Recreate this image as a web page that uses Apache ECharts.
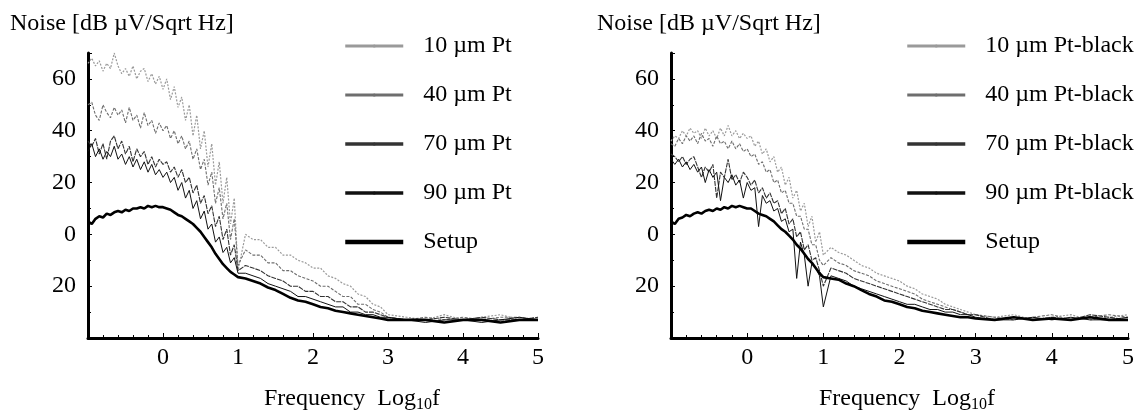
<!DOCTYPE html>
<html>
<head>
<meta charset="utf-8">
<script src="https://cdn.jsdelivr.net/npm/echarts@6/dist/echarts.min.js"></script>
<style>html,body{margin:0;padding:0;background:#fff}#c{width:1143px;height:417px}</style>
</head>
<body>
<div id="c"></div>
<script>
// Frequency grid (Log10 f)
const logF = [-1.00,-0.95,-0.90,-0.85,-0.80,-0.75,-0.70,-0.65,-0.60,-0.55,-0.50,-0.45,-0.40,-0.35,-0.30,-0.25,-0.20,-0.15,-0.10,-0.05,
  0.00,0.05,0.10,0.15,0.20,0.25,0.30,0.35,0.40,0.45,0.50,0.55,0.60,0.65,0.70,0.75,0.80,0.85,0.90,0.95,1.00,
  1.1,1.2,1.3,1.4,1.5,1.6,1.7,1.8,1.9,2.0,2.1,2.2,2.3,2.4,2.5,2.6,2.7,2.8,2.9,3.0,
  3.25,3.5,3.75,4.0,4.25,4.5,4.75,5.0];

// Left panel: Pt electrodes
const pt10 = [66,68,65,67,63,66,64,70,65,62,64,61,65,60,63,64,59,62,58,61,
  56,60,52,57,49,53,44,50,38,46,33,40,26,35,19,28,12,22,4,14,-14,
  0,-2,-2,-5,-5,-8,-8,-10,-11,-13,-13,-16,-17,-19,-20,-23,-24,-27,-28,-31,
  -32,-33,-31,-33,-32,-31,-33,-32];
const pt40 = [50,51,46,44,50,47,45,49,46,48,43,49,44,46,41,47,42,44,39,43,
  40,42,37,40,35,38,33,36,29,33,25,29,19,24,12,18,6,12,-2,6,-12,
  -6,-8,-8,-11,-11,-14,-14,-16,-17,-18,-20,-20,-22,-24,-24,-27,-27,-29,-30,-32,
  -33,-32,-33,-32,-33,-32,-32,-33];
const pt70 = [36,34,37,31,35,29,36,38,33,36,31,34,28,33,30,32,27,30,26,29,
  27,28,24,26,22,25,20,22,16,19,12,15,8,11,3,7,-2,2,-8,-4,-14,
  -12,-13,-14,-16,-17,-18,-20,-20,-22,-22,-24,-24,-26,-26,-28,-28,-30,-30,-31,-32,
  -33,-33,-32,-33,-32,-33,-33,-32];
const pt90 = [32,35,30,33,29,32,30,34,29,31,27,30,26,29,25,28,24,27,23,25,
  22,24,20,22,17,20,14,17,10,13,6,9,2,4,-3,-1,-7,-5,-11,-9,-15,
  -15,-16,-17,-19,-20,-21,-22,-24,-24,-25,-26,-27,-28,-28,-30,-30,-31,-31,-32,-32,
  -33,-34,-33,-33,-34,-33,-32,-33];
const setupL = [5,4,6,7,6.5,8,7.5,8.5,9,8.5,9.5,9,10,10,10.5,10,11,10.5,11,10.5,
  10.5,10,9.5,8.5,7.5,7,6,5,4,2.5,1,-1,-3,-5,-7.5,-9.5,-11.5,-13,-14.5,-15.5,-16.5,
  -17,-18,-19,-20.5,-21.5,-23,-24.5,-25.5,-26,-27,-28,-28.5,-29.5,-30,-30.5,-31,-31.5,-32,-32.5,-33,
  -33,-33,-34,-33,-33,-34,-33,-33];

// Right panel: Pt-black electrodes
const pb10 = [36,38,37,40,38,41,39,40,37,41,38,40,37,41,38,42,38,40,37,39,
  37,38,34,36,31,33,28,30,24,26,19,22,14,17,9,12,3,7,-3,1,-8,
  -5,-7,-8,-10,-12,-13,-15,-16,-17,-18,-20,-21,-23,-24,-25,-27,-28,-29,-30,-31,
  -32,-31,-33,-32,-31,-33,-32,-31];
const pb40 = [35,34,37,35,38,36,38,35,39,36,37,34,38,35,36,33,36,33,35,32,
  33,30,31,27,28,24,25,20,21,16,17,12,12,7,7,2,2,-4,-4,-10,-12,
  -9,-11,-12,-14,-15,-16,-18,-19,-20,-21,-22,-23,-25,-26,-27,-28,-29,-30,-31,-31,
  -32,-33,-32,-31,-33,-32,-31,-32];
const pb70 = [31,30,28,30,27,29,30,26,22,26,24,27,14,24,22,29,21,23,20,24,
  22,19,21,16,18,14,16,12,13,8,10,4,6,-1,1,-6,-4,-10,-9,-14,-20,
  -13,-14,-15,-17,-18,-19,-20,-21,-22,-23,-24,-25,-26,-27,-28,-29,-29,-30,-31,-31,
  -33,-32,-33,-32,-33,-31,-32,-33];
const pb90 = [29,27,29,26,28,25,27,24,26,20,25,22,24,13,22,20,23,19,21,14,
  20,17,18,3,15,12,13,9,10,5,6,1,2,-17,-3,-8,-20,-11,-13,-16,-28,
  -16,-17,-18,-20,-21,-22,-23,-24,-25,-26,-27,-27,-28,-29,-29,-30,-30,-31,-31,-32,
  -33,-33,-32,-33,-32,-33,-33,-32];
const setupR = [5,4,6,6.5,7.5,7,8,8.5,8,9,9.5,9,10,9.5,10.5,10,11,10.5,11,10.5,
  10,10,9,8,7.5,7,6,5,3.5,2,1,-0.5,-2,-4,-5.5,-7.5,-9.5,-11,-13,-15,-16.5,
  -17,-17.5,-19,-20,-21.5,-23,-24,-25.5,-26,-27,-28,-28.5,-29.5,-30,-30.5,-31,-31.5,-32,-32,-32.5,
  -33,-32,-33,-32.5,-33,-32,-33,-33];

const namesL = ['10 µm Pt','40 µm Pt','70 µm Pt','90 µm Pt','Setup'];
const namesR = ['10 µm Pt-black','40 µm Pt-black','70 µm Pt-black','90 µm Pt-black','Setup '];
const xTickLabels = {'0':'0','1':'1','2':'2','3':'3','4':'4','5':'5'};
const yTickLabels = {'60':'60','40':'40','20':'20','0':'0','-20':'20'};
const yTitle = 'Noise [dB µV/Sqrt Hz]';

const FONT = "'Liberation Serif','Times New Roman',serif";
const FS = 24;
const styles = [
  {color:'#9a9a9a', width:1.2, type:[2,1.5], lw:3},
  {color:'#6e6e6e', width:1.1, type:[3,1.5], lw:3},
  {color:'#333333', width:1.1, type:[5,1], lw:3.5},
  {color:'#111111', width:1, type:'solid', lw:3.5},
  {color:'#000000', width:2.6, type:'solid', lw:4.5}
];
const pair = arr => arr.map((v,i)=>[logF[i], v]);

function mkSeries(names, arrs, gi){
  return arrs.map((a,i)=>({
    name:names[i], type:'line', xAxisIndex:gi, yAxisIndex:gi, data:pair(a),
    symbol:'none', smooth:false, z: 2+i,
    lineStyle:{color:styles[i].color, width:styles[i].width, type:styles[i].type},
    itemStyle:{color:styles[i].color}
  }));
}
function mkX(gi){
  return {type:'value', gridIndex:gi, min:-1, max:5, interval:1,
    axisLine:{show:true, onZero:false, lineStyle:{color:'#000', width:3}},
    axisTick:{show:true, inside:true, length:5, lineStyle:{color:'#000', width:1}},
    minorTick:{show:true, splitNumber:5, length:3, lineStyle:{color:'#000', width:1}},
    splitLine:{show:false},
    axisLabel:{margin:8, color:'#000', fontSize:FS, fontFamily:FONT,
      formatter:v=>xTickLabels[String(v)] ?? ''}
  };
}
function mkY(gi){
  return {type:'value', gridIndex:gi, min:-40, max:70, interval:20,
    axisLine:{show:true, onZero:false, lineStyle:{color:'#000', width:3}},
    axisTick:{show:true, inside:true, length:4, lineStyle:{color:'#000', width:1}},
    minorTick:{show:true, splitNumber:2, length:3, lineStyle:{color:'#000', width:1}},
    splitLine:{show:false},
    axisLabel:{margin:12, color:'#000', fontSize:FS, fontFamily:FONT,
      formatter:v=>yTickLabels[String(v)] ?? ''}
  };
}
function mkLegend(names, left){
  return {orient:'vertical', left:left, top:34, itemWidth:58, itemHeight:4, itemGap:25,
    padding:0, selectedMode:false,
    data:names.map((n,i)=>({name:n, lineStyle:{width:styles[i].lw, color:styles[i].color, type:'solid'}})),
    textStyle:{fontSize:FS, fontFamily:FONT, color:'#000', padding:[0,0,0,15]}
  };
}
const xName = {text:'{a|Frequency  Log}{s|10}{a|f}', textStyle:{fontWeight:'normal', rich:{
  a:{fontSize:FS, fontWeight:'normal', fontFamily:FONT, color:'#000'},
  s:{fontSize:16, fontWeight:'normal', fontFamily:FONT, color:'#000', verticalAlign:'bottom', padding:[12,0,0,0]}}}};

const chart = echarts.init(document.getElementById('c'), null, {renderer:'canvas'});
chart.setOption({
  animation:false,
  backgroundColor:'#fff',
  title:[
    {text:yTitle, left:10, top:12, padding:0, textStyle:{fontSize:FS, fontWeight:'normal', fontFamily:FONT, color:'#000'}},
    {text:yTitle, left:597, top:12, padding:0, textStyle:{fontSize:FS, fontWeight:'normal', fontFamily:FONT, color:'#000'}},
    Object.assign({left:264, top:385, padding:0}, xName),
    Object.assign({left:819, top:385, padding:0}, xName)
  ],
  legend:[mkLegend(namesL, 343), mkLegend(namesR, 905)],
  grid:[
    {left:88, right:605, top:53, bottom:79, containLabel:false},
    {left:671, right:15, top:53, bottom:79, containLabel:false}
  ],
  xAxis:[mkX(0), mkX(1)],
  yAxis:[mkY(0), mkY(1)],
  series:[].concat(
    mkSeries(namesL, [pt10, pt40, pt70, pt90, setupL], 0),
    mkSeries(namesR, [pb10, pb40, pb70, pb90, setupR], 1)
  )
});
</script>
</body>
</html>
